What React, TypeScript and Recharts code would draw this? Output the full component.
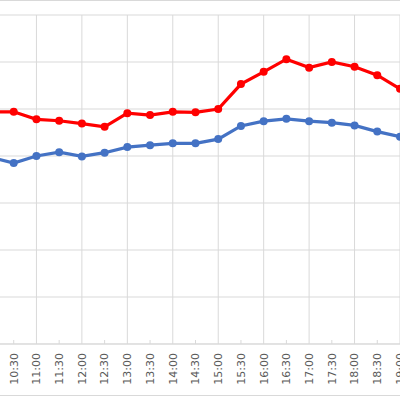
import React from "react";
import { LineChart, Line, XAxis, YAxis, CartesianGrid } from "recharts";

// categories (half-hour slots)
const times = [
  "10:00", "10:30", "11:00", "11:30", "12:00", "12:30", "13:00", "13:30", "14:00", "14:30",
  "15:00", "15:30", "16:00", "16:30", "17:00", "17:30", "18:00", "18:30", "19:00",
];
// (no axis labels visible, scale 0..70)
const redValues = [
  49.4, 49.4, 47.8, 47.5, 46.9, 46.2, 49.1, 48.7, 49.4, 49.3,
  50.0, 55.3, 57.9, 60.6, 58.8, 60.0, 59.0, 57.2, 54.3,
];
const blueValues = [
  39.7, 38.5, 40.0, 40.8, 39.9, 40.7, 41.9, 42.3, 42.7, 42.7,
  43.6, 46.4, 47.4, 47.9, 47.4, 47.1, 46.5, 45.2, 44.1,
];
const yTicks = [0, 10, 20, 30, 40, 50, 60, 70];
// gridlines only on the full hours
const hourTimes = times.filter((t) => t.endsWith(":00"));

const data = times.map((t, i) => ({ time: t, red: redValues[i], blue: blueValues[i] }));

const GRID = "#d9d9d9";

function scaleOf(axis: any) {
  const s = axis?.scale;
  if (typeof s === "function") return (v: string) => s(v);
  if (s && typeof s.map === "function") return (v: string) => s.map(v);
  throw new Error("axis keys: " + Object.keys(axis || {}).join(",") + " | scale keys: " + Object.keys(s || {}).join(","));
}

function TimeTick(props: any) {
  const { x, y, payload, index } = props;
  const ty = y + 9;
  // the first slot sits left of the visible area, its label is cropped away
  if (index === 0) return <g />;
  return (
    <g>
      {index % 2 === 1 && <line x1={x} x2={x} y1={y} y2={y - 4} stroke={GRID} />}
      <text
        x={x}
        y={ty}
        transform={`rotate(-90 ${x} ${ty})`}
        textAnchor="end"
        dy="0.35em"
        fill="#595959"
        fontSize={11}
        fontFamily="DejaVu Sans, sans-serif"
      >
        {payload.value}
      </text>
    </g>
  );
}

export default function App() {
  return (
    <div
      style={{
        position: "absolute",
        left: 0,
        top: 0,
        width: 400,
        height: 400,
        overflow: "hidden",
        background: "#fff",
      }}
    >
      <div
        style={{
          position: "absolute",
          left: 0,
          top: 0,
          width: 400,
          height: 396,
          borderTop: `1px solid ${GRID}`,
          borderBottom: `1px solid ${GRID}`,
          boxSizing: "border-box",
        }}
      />
      <div style={{ position: "absolute", left: -9, top: 0 }}>
        <LineChart
          width={409}
          height={400}
          data={data}
          margin={{ top: 15, right: 0, bottom: 6, left: 0 }}
        >
          <CartesianGrid
            stroke={GRID}
            verticalCoordinatesGenerator={({ xAxis }: any) => {
              const sx = scaleOf(xAxis);
              return hourTimes.map((t) => sx(t));
            }}
          />
          <XAxis
            dataKey="time"
            interval={0}
            height={50}
            tickSize={0}
            tickMargin={0}
            tickLine={false}
            axisLine={{ stroke: GRID }}
            tick={<TimeTick />}
          />
          <YAxis hide domain={[0, 70]} ticks={yTicks} />
          <Line
            dataKey="blue"
            stroke="#4472c4"
            strokeWidth={3.25}
            dot={{ r: 4, fill: "#4472c4", stroke: "#4472c4", strokeWidth: 0 }}
            isAnimationActive={false}
          />
          <Line
            dataKey="red"
            stroke="#ff0000"
            strokeWidth={3.25}
            dot={{ r: 4, fill: "#ff0000", stroke: "#ff0000", strokeWidth: 0 }}
            isAnimationActive={false}
          />
        </LineChart>
      </div>
    </div>
  );
}
